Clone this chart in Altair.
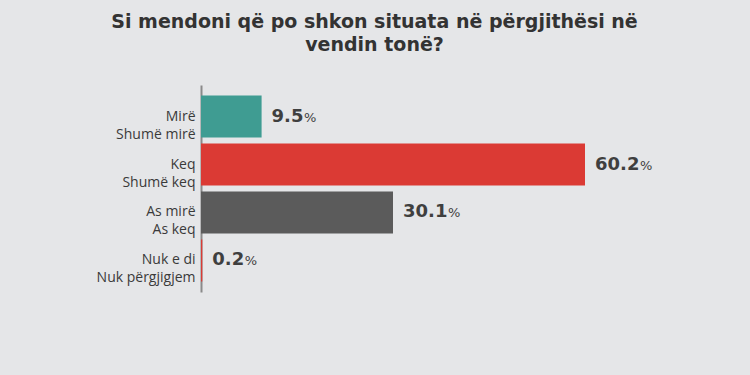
import altair as alt
import pandas as pd

categories = ["Mirë|Shumë mirë", "Keq|Shumë keq", "As mirë|As keq", "Nuk e di|Nuk përgjigjem"]
values = [9.5, 60.2, 30.1, 0.2]
colors = ["#3f9c92", "#db3a34", "#5b5b5b", "#db3a34"]
title_lines = ["Si mendoni që po shkon situata në përgjithësi në", "vendin tonë?"]

df = pd.DataFrame({"cat": categories, "val": values, "color": colors})

FONT = "Open Sans"
NUMFONT = "DejaVu Sans"
PLOT_W = 421
X_MAX = 66

base = alt.Chart(df).encode(
    y=alt.Y(
        "cat:N",
        sort=categories,
        scale=alt.Scale(paddingInner=0.125, paddingOuter=0.219),
        axis=alt.Axis(
            title=None,
            labelExpr="split(datum.label, '|')",
            labelFont=FONT,
            labelFontSize=14,
            labelColor="#3a3a3a",
            labelLineHeight=18,
            labelPadding=6,
            ticks=False,
            domainColor="#8a8a8a",
            domainWidth=2,
            labelAlign="right",
            labelBaseline="middle",
        ),
    )
)

xscale = alt.Scale(domain=[0, X_MAX], nice=False)

bars = base.mark_bar().encode(
    x=alt.X("val:Q", scale=xscale, axis=None),
    color=alt.Color("color:N", scale=None),
)

num = base.mark_text(
    align="left", baseline="middle", dx=10, font=NUMFONT, fontSize=18, fontWeight="bold", color="#3f3f3f"
).encode(x=alt.X("val:Q", scale=xscale, axis=None), text=alt.Text("val:Q", format=".1f"))

pct = (
    base.transform_calculate(
        xp=f"datum.val + (12.5 * (length(format(datum.val, '.1f')) - 1) + 6.9) * {X_MAX} / {PLOT_W}",
    )
    .mark_text(
        align="left", baseline="middle", dx=10.5, dy=1, font=NUMFONT, fontSize=13, fontWeight="normal", color="#3f3f3f"
    )
    .encode(x=alt.X("xp:Q", scale=xscale, axis=None), text=alt.value("%"))
)

chart = (
    (bars + num + pct)
    .properties(
        width=PLOT_W,
        height=207,
        autosize=alt.AutoSizeParams(type="none"),
        padding={"left": 201, "top": 85, "right": 128, "bottom": 83},
        background="#e5e6e8",
        title=alt.TitleParams(
            text=title_lines,
            font="DejaVu Sans",
            fontSize=19,
            fontWeight="bold",
            color="#333333",
            anchor="middle",
            dx=-37,
            offset=30,
            lineHeight=23,
        ),
    )
    .configure_view(stroke=None)
)

chart.save("out.html", embed_options={"renderer": "svg", "actions": False})
